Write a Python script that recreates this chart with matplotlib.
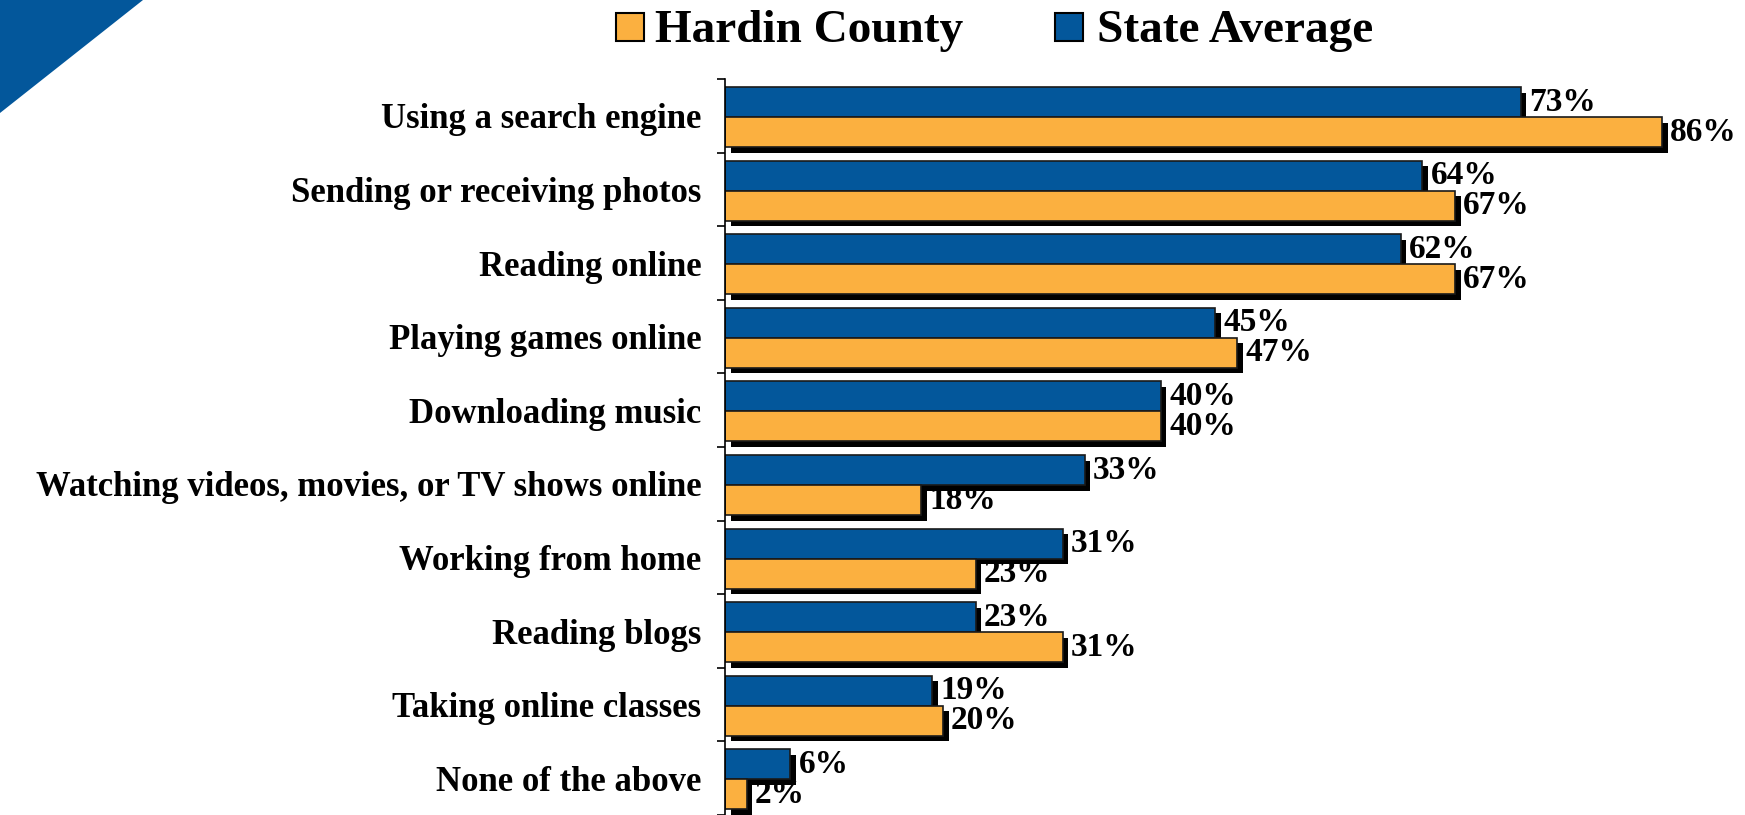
import numpy as np
import matplotlib.pyplot as plt
import matplotlib.patheffects as pe
from matplotlib.patches import Rectangle, Polygon

categories = ["Using a search engine", "Sending or receiving photos", "Reading online",
              "Playing games online", "Downloading music",
              "Watching videos, movies, or TV shows online", "Working from home",
              "Reading blogs", "Taking online classes", "None of the above"]
state_avg = [73, 64, 62, 45, 40, 33, 31, 23, 19, 6]
hardin = [86, 67, 67, 47, 40, 18, 23, 31, 20, 2]
series_names = ["Hardin County", "State Average"]

BLUE = "#03579b"
ORANGE = "#fbb040"
FONT = "Liberation Serif"

plt.rcParams['font.family'] = [FONT, 'DejaVu Serif']

fig = plt.figure(figsize=(17.45, 8.15), dpi=100)
ax = fig.add_axes([725 / 1745, 0.0, 1 - 725 / 1745, 1 - 79 / 815])

n = len(categories)
idx = np.arange(n)
bar_h = 0.408
blue_y = idx + 0.313
orange_y = idx + 0.721

shadow = [pe.SimplePatchShadow(offset=(4, -4), shadow_rgbFace='black', alpha=1.0), pe.Normal()]
b1 = ax.barh(blue_y, state_avg, height=bar_h, color=BLUE, edgecolor='#1a1a1a', linewidth=1.2)
b2 = ax.barh(orange_y, hardin, height=bar_h, color=ORANGE, edgecolor='#1a1a1a', linewidth=1.2)
for bar in list(b1) + list(b2):
    bar.set_path_effects(shadow)

# value labels
for y, v in zip(blue_y, state_avg):
    ax.text(v + 0.75, y, f"{v}%", va='center', ha='left', fontsize=24, fontweight='bold')
for y, v in zip(orange_y, hardin):
    ax.text(v + 0.75, y, f"{v}%", va='center', ha='left', fontsize=24, fontweight='bold')

ax.set_xlim(0, 93.6)
ax.set_ylim(n, 0)
ax.set_yticks(idx + 0.5)
ax.set_yticklabels(categories, fontsize=25, fontweight='bold')
ax.set_yticks(np.arange(n + 1), minor=True)
ax.tick_params(axis='y', which='major', length=0, pad=17)
ax.tick_params(axis='y', which='minor', length=6, width=1.2)
ax.set_xticks([])
for s in ['top', 'right', 'bottom']:
    ax.spines[s].set_visible(False)
ax.spines['left'].set_linewidth(1.2)

# legend
fig.add_artist(Rectangle((616 / 1745, 1 - 41 / 815), 28 / 1745, 28 / 815,
                         transform=fig.transFigure, facecolor=ORANGE, edgecolor='black', lw=1.5))
fig.add_artist(Rectangle((1055 / 1745, 1 - 41 / 815), 28 / 1745, 28 / 815,
                         transform=fig.transFigure, facecolor=BLUE, edgecolor='black', lw=1.5))
fig.text(655 / 1745, 1 - 42 / 815, series_names[0], fontsize=34, fontweight='bold', va='baseline')
fig.text(1097 / 1745, 1 - 42 / 815, series_names[1], fontsize=34, fontweight='bold', va='baseline')

# corner decoration
fig.add_artist(Polygon([(0, 1), (143 / 1745, 1), (0, 1 - 113 / 815)], closed=True,
                       transform=fig.transFigure, facecolor=BLUE, edgecolor='none'))

fig.savefig("out.png", dpi=100)
